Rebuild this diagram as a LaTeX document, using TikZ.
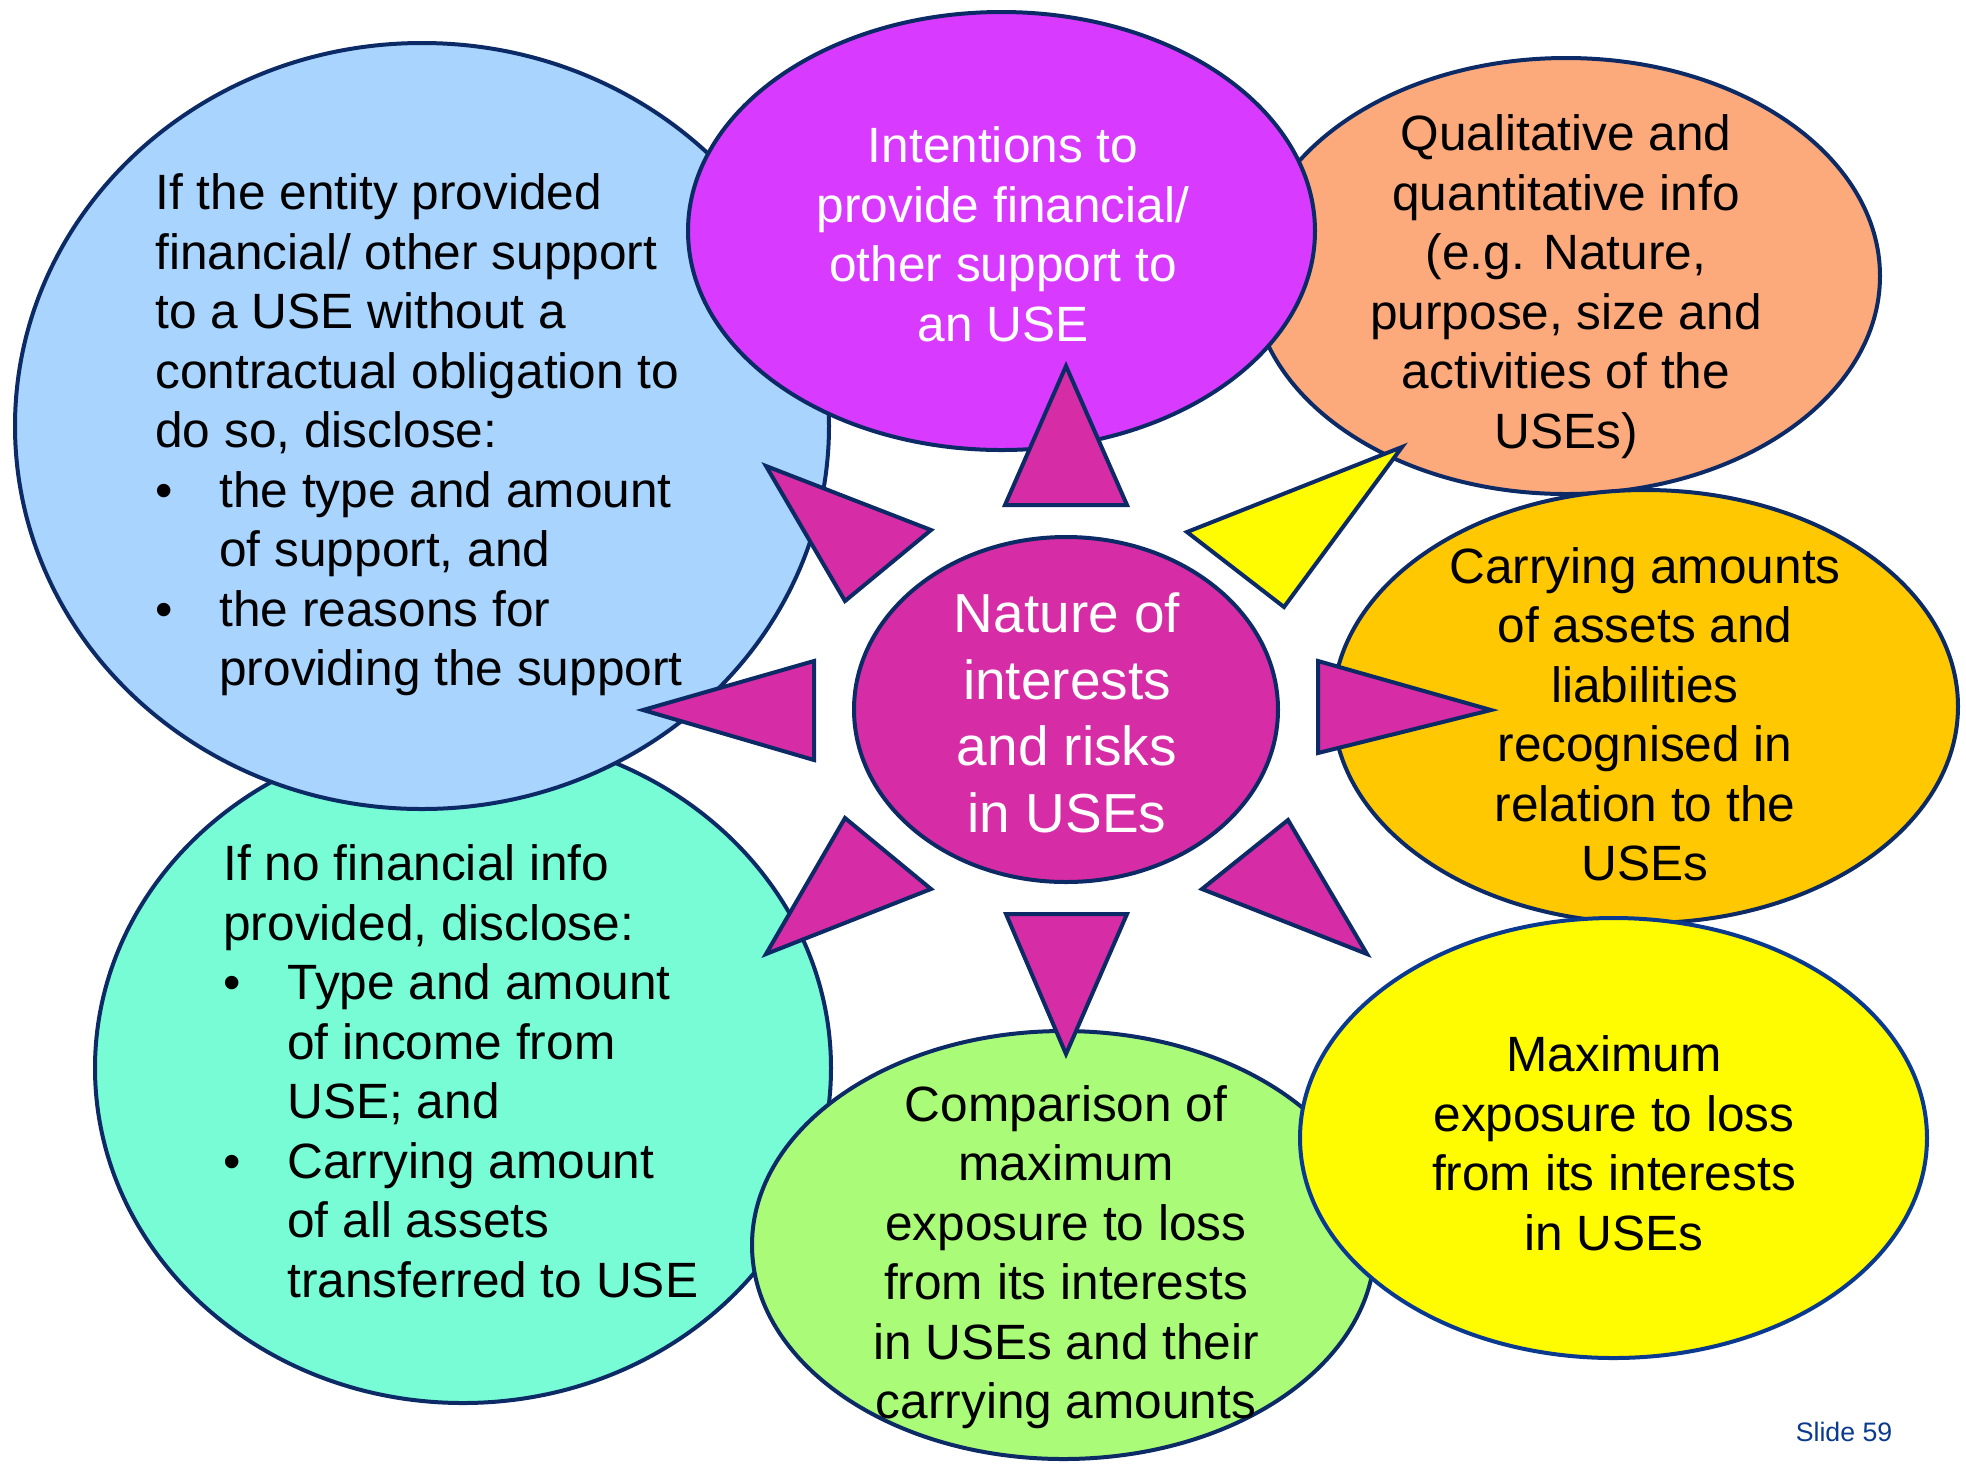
\documentclass[tikz,border=0pt]{standalone}
\usepackage{fontspec}
\setmainfont{Liberation Sans}
\usetikzlibrary{shapes.geometric}

% outline and fill colours
\definecolor{rim}{HTML}{0C2A66}
\definecolor{rimblue}{HTML}{0A3A8F}
\definecolor{skyfill}{HTML}{A8D4FE}
\definecolor{aqua}{HTML}{77FCD6}
\definecolor{peach}{HTML}{FCAA7B}
\definecolor{violet}{HTML}{D83BFF}
\definecolor{gold}{HTML}{FFC800}
\definecolor{lime}{HTML}{AAFB78}
\definecolor{lemon}{HTML}{FFFB00}
\definecolor{hub}{HTML}{D62CA5}
\definecolor{slideblue}{HTML}{0B3A8C}

% bullet line and its continuation lines
\newcommand\dotitem[1]{\makebox[32pt][l]{\textbullet}#1}
\newcommand\dotcont[1]{\hspace*{32pt}#1}

\begin{document}
\begin{tikzpicture}[x=0.5pt,y=-0.5pt,
  bubble/.style={ellipse, draw=rim, line width=2pt, inner sep=0pt, outer sep=0pt},
  body/.style={font=\fontsize{24.8}{29.75}\selectfont, inner sep=0pt, text=black},
  hubtext/.style={font=\fontsize{27.5}{33.25}\selectfont, inner sep=0pt, text=white},
  pointer/.style={fill=hub, draw=rim, line width=2pt, line join=miter}]

\useasboundingbox (0,0) rectangle (1966,1464);

% outer bubbles, back to front
\node[bubble, fill=aqua, minimum width=368pt, minimum height=335pt] (income) at (463,1068) {};
\node[bubble, fill=skyfill, minimum width=407pt, minimum height=383pt] (support) at (422,426) {};
\node[bubble, fill=peach, minimum width=314pt, minimum height=218pt] (quali) at (1566,276) {};
\node[bubble, fill=violet, minimum width=313.5pt, minimum height=219pt] (intent) at (1001.5,231) {};
\node[bubble, fill=gold, minimum width=312.5pt, minimum height=216.5pt] (carry) at (1645.5,706.5) {};
\node[bubble, fill=lime, minimum width=311.5pt, minimum height=214pt] (compare) at (1063.5,1245) {};
\node[bubble, fill=lemon, draw=rimblue, minimum width=313.5pt, minimum height=220pt] (maxloss) at (1613.5,1138) {};

% central bubble
\node[bubble, fill=hub, minimum width=212pt, minimum height=172.5pt] (hub) at (1066,709.5) {};

% pointers around the centre
\draw[pointer] (1066,366) -- (1127,505) -- (1005,505) -- cycle;
\draw[pointer, fill=lemon] (1187,532) -- (1402,447) -- (1284,607) -- cycle;
\draw[pointer] (1318,661) -- (1491,710) -- (1318,753) -- cycle;
\draw[pointer] (1202,889) -- (1288,820) -- (1367,954) -- cycle;
\draw[pointer] (1006,914) -- (1127,914) -- (1066,1054) -- cycle;
\draw[pointer] (766,954) -- (845,818) -- (931,889) -- cycle;
\draw[pointer] (643,710) -- (814,661) -- (814,760) -- cycle;
\draw[pointer] (766,466) -- (931,530) -- (845,601) -- cycle;

% texts
\node[body, align=left, anchor=west] (support-text) at (155,436)
  {\strut If the entity provided\\
   financial/ other support\\
   to a USE without a\\
   contractual obligation to\\
   do so, disclose:\\
   \dotitem{the type and amount}\\
   \dotcont{of support, and}\\
   \dotitem{the reasons for}\\
   \dotcont{providing the support}\strut};

\node[body, align=left, anchor=west] (income-text) at (223,1077)
  {\strut If no financial info\\
   provided, disclose:\\
   \dotitem{Type and amount}\\
   \dotcont{of income from}\\
   \dotcont{USE; and}\\
   \dotitem{Carrying amount}\\
   \dotcont{of all assets}\\
   \dotcont{transferred to USE}\strut};

\node[body, align=center, text=white] (intent-text) at (1003,240)
  {\strut Intentions to\\provide financial/\\other support to\\an USE\strut};

\node[body, align=center] (quali-text) at (1566,287.5)
  {\strut Qualitative and\\quantitative info\\(e.g. Nature,\\purpose, size and\\activities of the\\USEs)\strut};

\node[body, align=center] (carry-text) at (1645,720)
  {\strut Carrying amounts\\of assets and\\liabilities\\recognised in\\relation to the\\USEs\strut};

\node[hubtext, align=center] (hub-text) at (1067,719)
  {\strut Nature of\\interests\\and risks\\in USEs\strut};

\node[body, align=center] (compare-text) at (1066,1258)
  {\strut Comparison of\\maximum\\exposure to loss\\from its interests\\in USEs and their\\carrying amounts\strut};

\node[body, align=center] (maxloss-text) at (1614,1149)
  {\strut Maximum\\exposure to loss\\from its interests\\in USEs\strut};

\node[font=\fontsize{13.35}{16}\selectfont, text=slideblue, inner sep=0pt] (slideno) at (1844,1432) {Slide 59};

\end{tikzpicture}
\end{document}
